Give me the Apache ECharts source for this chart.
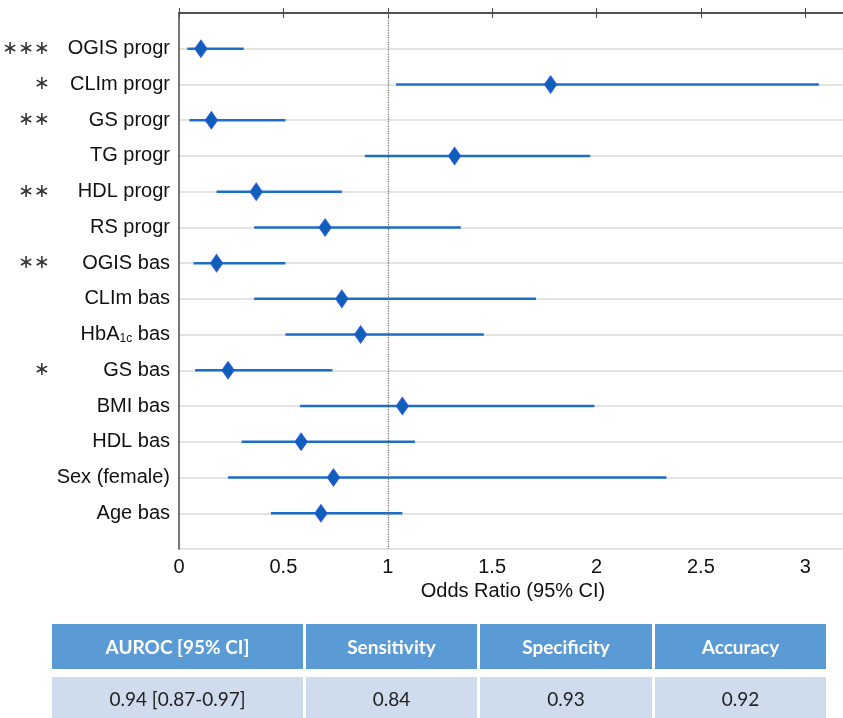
<!DOCTYPE html>
<html lang="en">
<head>
    <meta charset="UTF-8">
    <title>Odds Ratio</title>
    <script src="https://cdn.jsdelivr.net/npm/echarts@6/dist/echarts.min.js"></script>
    <style>
        body { margin: 0; background: #fff; }
        #main { width: 843px; height: 718px; position: absolute; left: 0; top: 0; }
        table {
            position: absolute; left: 52px; top: 624px;
            border-collapse: separate; border-spacing: 0;
            font-family: Lato, "Open Sans", sans-serif; font-size: 19px;
        }
        th, td { text-align: center; padding: 0; }
        th { background: #5b9bd5; color: #fff; font-weight: bold; height: 45px; }
        td { background: #cfdcee; color: #222; height: 42px; }
        tr.gap td { background: none; height: 8px; }
        .c { border-left: 3px solid #fff; }
    </style>
</head>
<body>
    <div id="main"></div>
    <table id="tbl"></table>

    <script>
        // 变量名（从上到下）
        var names = ['OGIS progr', 'CLIm progr', 'GS progr', 'TG progr', 'HDL progr', 'RS progr',
            'OGIS bas', 'CLIm bas', 'HbA1c bas', 'GS bas', 'BMI bas', 'HDL bas', 'Sex (female)', 'Age bas'];
        var stars = ['∗∗∗', '∗', '∗∗', '', '∗∗', '', '∗∗', '', '', '∗', '', '', '', ''];
        // odds ratio 以及 95% CI
        var orValues = [0.105, 1.78, 0.155, 1.32, 0.37, 0.70, 0.18, 0.78, 0.87, 0.235, 1.07, 0.585, 0.74, 0.68];
        var ciLow = [0.04, 1.04, 0.05, 0.89, 0.18, 0.36, 0.07, 0.36, 0.51, 0.077, 0.58, 0.30, 0.235, 0.44];
        var ciHigh = [0.31, 3.065, 0.51, 1.97, 0.78, 1.35, 0.51, 1.71, 1.46, 0.735, 1.99, 1.13, 2.335, 1.07];
        var xTicks = [0, 0.5, 1, 1.5, 2, 2.5, 3];
        // 下面的表格
        var tableHead = ['AUROC [95% CI]', 'Sensitivity', 'Specificity', 'Accuracy'];
        var tableRow = ['0.94 [0.87-0.97]', '0.84', '0.93', '0.92'];
        var colWidths = [251, 171, 172, 171];

        // 表格
        var html = '<tr>';
        tableHead.forEach(function (h, i) {
            html += '<th class="' + (i ? 'c' : '') + '" style="width:' + colWidths[i] + 'px">' + h + '</th>';
        });
        html += '</tr><tr class="gap"><td colspan="4"></td></tr><tr>';
        tableRow.forEach(function (v, i) {
            html += '<td class="' + (i ? 'c' : '') + '">' + v + '</td>';
        });
        html += '</tr>';
        document.getElementById('tbl').innerHTML = html;

        var pts = [], ci = [];
        names.forEach(function (n, i) {
            pts.push([orValues[i], i + 1]);
            ci.push([ciLow[i], ciHigh[i], i + 1]);
        });

        var axisColor = '#4a4a4a';
        var labelFont = 'Liberation Sans, Arial, sans-serif';

        var myChart = echarts.init(document.getElementById('main'));
        var option = {
            animation: false,
            grid: { left: 179, top: 13, width: 668, height: 536, outerBoundsMode: 'none' },
            xAxis: [{
                type: 'value', min: 0, max: 3.2, interval: 0.5,
                position: 'bottom',
                name: 'Odds Ratio (95% CI)', nameLocation: 'middle', nameGap: 32,
                nameTextStyle: { fontSize: 20, color: '#111', fontFamily: labelFont },
                axisLine: { lineStyle: { color: axisColor, width: 1.5 } },
                axisTick: { inside: true, length: 5, lineStyle: { color: axisColor } },
                axisLabel: {
                    fontSize: 20, color: '#111', fontFamily: labelFont, margin: 8,
                    formatter: function (v) { return xTicks.indexOf(v) >= 0 ? String(v) : ''; }
                },
                splitLine: { show: false }
            }, {
                type: 'value', min: 0, max: 3.2, interval: 0.5,
                position: 'top',
                axisLine: { lineStyle: { color: axisColor, width: 1.5 } },
                axisTick: { inside: true, length: 5, lineStyle: { color: axisColor } },
                axisLabel: { show: false },
                splitLine: { show: false }
            }],
            yAxis: [{
                type: 'value', min: 0, max: 15, interval: 1, inverse: true,
                axisLine: { show: true, lineStyle: { color: axisColor, width: 1.5 } },
                axisTick: { show: false },
                splitLine: { lineStyle: { color: '#dadada', width: 1.5 } },
                axisLabel: {
                    fontSize: 20, color: '#111', fontFamily: labelFont, margin: 9,
                    formatter: function (v) {
                        var n = names[v - 1];
                        if (!n) return '';
                        if (n === 'HbA1c bas') return 'HbA{s|1c} bas';
                        return n;
                    },
                    rich: {
                        s: { fontSize: 12, fontFamily: labelFont, color: '#111', verticalAlign: 'middle', padding: [9, 0, 0, 0] }
                    }
                }
            }, {
                type: 'value', min: 0, max: 15, interval: 1, inverse: true,
                position: 'left', offset: 121,
                axisLine: { show: false }, axisTick: { show: false }, splitLine: { show: false },
                axisLabel: {
                    fontSize: 19, color: '#333', fontFamily: 'DejaVu Sans, sans-serif', margin: 8,
                    formatter: function (v) { return stars[v - 1] || ''; }
                }
            }],
            series: [{
                type: 'custom',
                data: ci,
                z: 2,
                renderItem: function (params, api) {
                    var a = api.coord([api.value(0), api.value(2)]);
                    var b = api.coord([api.value(1), api.value(2)]);
                    return {
                        type: 'line',
                        shape: { x1: a[0], y1: a[1], x2: b[0], y2: b[1] },
                        style: { stroke: '#1c6fc8', lineWidth: 2.5 }
                    };
                },
                markLine: {
                    silent: true, symbol: 'none', label: { show: false },
                    lineStyle: { color: '#666', type: 'dotted', width: 1.2 },
                    data: [{ xAxis: 1 }]
                }
            }, {
                type: 'scatter',
                data: pts,
                z: 3,
                symbol: 'diamond',
                symbolSize: [12, 17],
                itemStyle: { color: '#0d60b6', borderColor: '#2a58e0', borderWidth: 1.2, opacity: 1 }
            }]
        };
        myChart.setOption(option);
    </script>
</body>
</html>
